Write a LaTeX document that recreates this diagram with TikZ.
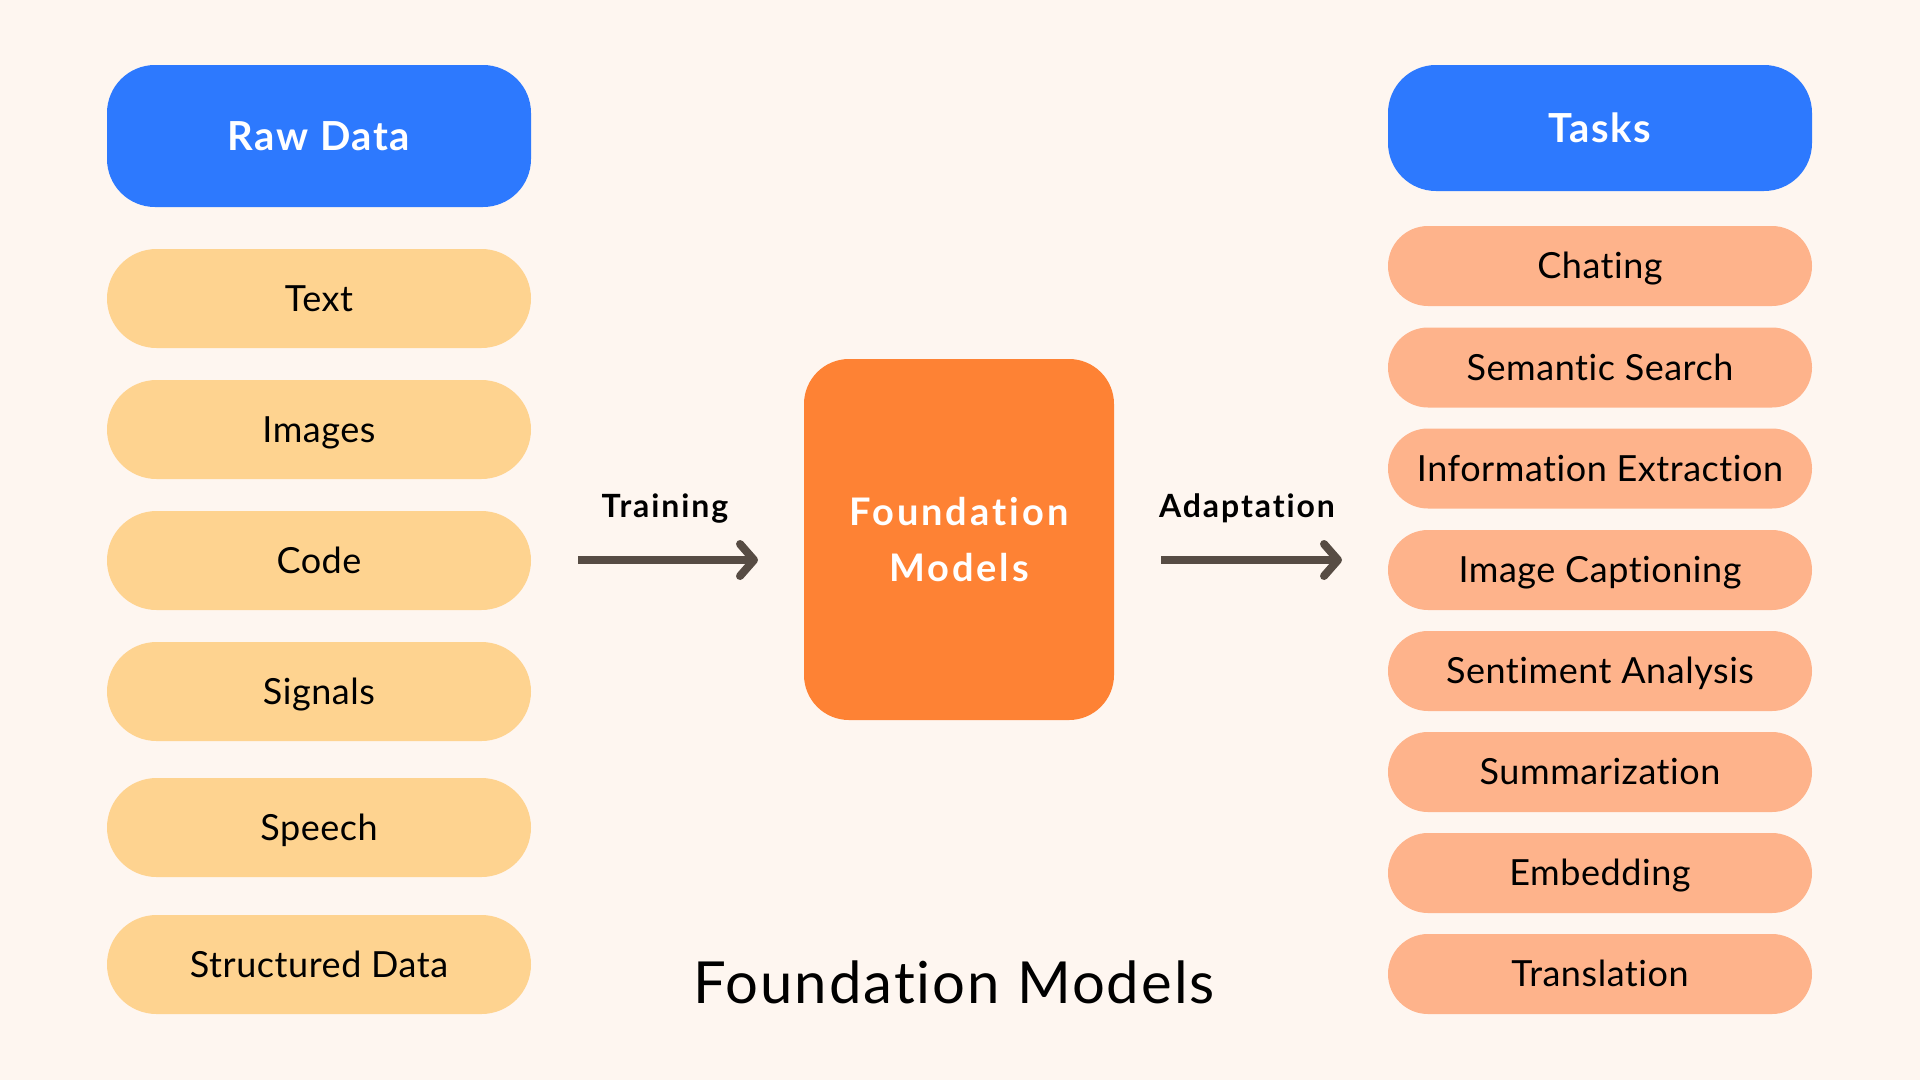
\documentclass[tikz,border=0pt]{standalone}
\usepackage{fontspec}
\setmainfont[Ligatures=NoCommon]{Lato}
\newfontfamily\itemfont[LetterSpace=1.5,Ligatures=NoCommon]{Lato}
\newfontfamily\hdrfont[LetterSpace=4,Ligatures=NoCommon]{Lato}
\newfontfamily\lblfont[LetterSpace=6,Ligatures=NoCommon]{Lato}
\newfontfamily\fmfont[LetterSpace=7.8,Ligatures=NoCommon]{Lato}
\newfontfamily\ttlfont[LetterSpace=3.5,Ligatures=NoCommon]{Lato}
\usetikzlibrary{arrows.meta}
\definecolor{bg}{HTML}{FEF6F0}
\definecolor{hdr}{HTML}{2D79FE}
\definecolor{src}{HTML}{FED390}
\definecolor{tsk}{HTML}{FEB38B}
\definecolor{fmc}{HTML}{FE8234}
\definecolor{arr}{HTML}{574C44}
\begin{document}
\begin{tikzpicture}[x=1pt,y=-1pt,
  hdrbox/.style={fill=hdr, text=white, font=\hdrfont\fontsize{40}{48}\selectfont\bfseries,
    minimum width=424pt, inner sep=0pt, rounded corners=48pt, text height=28.7pt, text depth=0pt},
  srcbox/.style={fill=src, text=black, font=\itemfont\fontsize{36}{42}\selectfont,
    minimum width=424pt, minimum height=99pt, inner sep=0pt, rounded corners=49.5pt,
    text height=25.8pt, text depth=0pt},
  tskbox/.style={fill=tsk, text=black, font=\itemfont\fontsize{36}{42}\selectfont,
    minimum width=424pt, minimum height=80pt, inner sep=0pt, rounded corners=40pt,
    text height=25.8pt, text depth=0pt},
  fmbox/.style={fill=fmc, text=white, font=\fmfont\fontsize{38}{56}\selectfont\bfseries,
    minimum width=310pt, minimum height=361pt, inner sep=0pt, rounded corners=45pt, align=center},
  steplabel/.style={text=black, font=\lblfont\fontsize{32}{36}\selectfont\bfseries, inner sep=0pt,
    text height=22.9pt, text depth=0pt},
  titlelabel/.style={text=black, font=\ttlfont\fontsize{58}{64}\selectfont, inner sep=0pt,
    text height=41.6pt, text depth=0pt},
  flowarrow/.style={draw=arr, line width=8pt, -{Straight Barb[length=14pt,width=32pt,round]}}
]
\useasboundingbox[fill=bg] (0,0) rectangle (1920,1080);

% left column
\node[hdrbox, minimum height=142pt] (raw) at (319,136) {Raw Data};
\node[srcbox] (text)   at (319,298.5) {Text};
\node[srcbox] (images) at (319,429.5) {Images};
\node[srcbox] (code)   at (319,560.5) {Code};
\node[srcbox] (signals) at (319,691.5) {Signals};
\node[srcbox] (speech) at (319,827.5) {Speech};
\node[srcbox] (struct) at (319,964.5) {Structured Data};

% right column
\node[hdrbox, minimum height=126pt] (tasks) at (1600,128) {Tasks};
\node[tskbox] (chat) at (1600,266) {Chating};
\node[tskbox] (sem)  at (1600,367.5) {Semantic Search};
\node[tskbox] (info) at (1600,468.5) {Information Extraction};
\node[tskbox] (cap)  at (1600,570) {Image Captioning};
\node[tskbox] (sent) at (1600,671) {Sentiment Analysis};
\node[tskbox] (summ) at (1600,772) {Summarization};
\node[tskbox] (emb)  at (1600,873) {Embedding};
\node[tskbox] (trans) at (1600,974) {Translation};

% center
\node[fmbox] (fm) at (959,539.5) {Foundation\\Models};
\node[steplabel] (trainlbl) at (665,506) {Training};
\node[steplabel] (adaptlbl) at (1247,506) {Adaptation};
\coordinate (tr1) at (578,560);
\coordinate (tr2) at (758,560);
\coordinate (ad1) at (1161,560);
\coordinate (ad2) at (1342,560);
\draw[flowarrow] (tr1) -- (tr2);
\draw[flowarrow] (ad1) -- (ad2);

\node[titlelabel] (title) at (954,982.5) {Foundation Models};
\end{tikzpicture}
\end{document}
